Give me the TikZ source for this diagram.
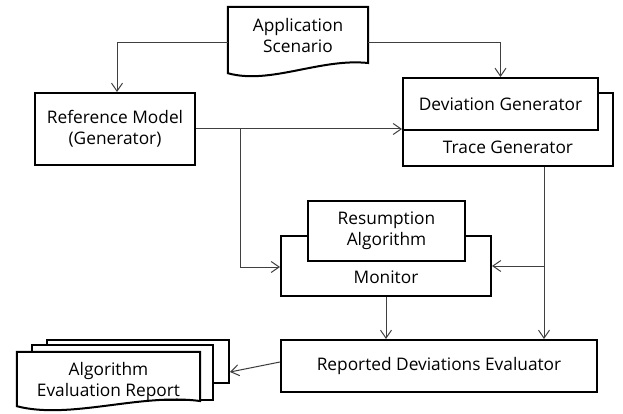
\documentclass[tikz,border=0pt]{standalone}
\usepackage{fontspec}
\setmainfont{Open Sans}
\usetikzlibrary{arrows.meta}
\begin{document}
\begin{tikzpicture}[x=1pt,y=-1pt,
  box/.style={draw=black, line width=2pt, fill=white, inner sep=0pt},
  lbl/.style={align=center, font=\fontsize{17.3}{21}\selectfont, inner sep=0pt},
  conn/.style={draw=black!75, line width=1pt, -{Straight Barb[length=8pt,width=11pt]}},
  plain/.style={draw=black!75, line width=1pt},
  docline/.style={draw=black, line width=2pt, fill=white}]
\useasboundingbox (0,0) rectangle (623,414);
\fill[white] (0,0) rectangle (623,414);

% Application Scenario (document shape)
\node[inner sep=0pt, minimum width=140pt, minimum height=66pt] (app) at (298,40) {};
\draw[docline] (app.north west) -- (app.north east) -- (368,63)
  .. controls (320,58) and (270,85) .. (app.south west) -- cycle;
\node[lbl] (applbl) at (298,35.5) {Application\\Scenario};

% Reference model
\node[box, lbl, minimum width=160pt, minimum height=72pt] (ref) at (115,129) {Reference Model\\(Generator)};

% Trace generator with deviation generator
\node[box, minimum width=210pt, minimum height=73pt] (trace) at (508,129.5) {};
\node[lbl] (tracelbl) at (508,147) {Trace Generator};
\node[box, lbl, minimum width=195pt, minimum height=52pt] (dev) at (500.5,104) {Deviation Generator};

% Monitor with resumption algorithm
\node[box, minimum width=210pt, minimum height=60pt] (mon) at (386,266) {};
\node[lbl] (monlbl) at (386,277) {Monitor};
\node[box, lbl, minimum width=157pt, minimum height=60pt] (res) at (386.5,231) {Resumption\\Algorithm};

% Evaluator
\node[box, lbl, minimum width=316pt, minimum height=52pt] (eval) at (439,366) {Reported Deviations Evaluator};

% Algorithm evaluation report (stacked documents)
\node[box, minimum width=182pt, minimum height=43pt] (rep3) at (138,361.5) {};
\node[box, minimum width=181pt, minimum height=55pt] (rep2) at (122.5,372.5) {};
\node[inner sep=0pt, minimum width=183pt, minimum height=54pt] (rep) at (108.5,379) {};
\draw[docline] (rep.north west) -- (rep.north east) -- (200,401)
  .. controls (140,393) and (70,420) .. (rep.south west) -- cycle;
\node[lbl] (replbl) at (108.5,381.5) {Algorithm\\Evaluation Report};

% Connectors
\draw[conn] ([yshift=-3pt]app.west) -| ([xshift=2pt]ref.north);
\draw[conn] ([yshift=-3pt]app.east) -| (dev.north);
\draw[conn] (ref.east) -- (ref.east -| trace.west);
\path (ref.east) ++(44pt,0) coordinate (j1);
\draw[conn] (j1) |- ([yshift=-1pt]mon.west);
\path (trace.south) ++(36pt,0) coordinate (t1);
\draw[conn] (t1) -- (t1 |- eval.north);
\draw[conn] (t1 |- mon.east) -- (mon.east);
\draw[conn] (mon.south) -- (mon.south |- eval.north);
\draw[conn] ([yshift=4pt]eval.west) -- ([yshift=-10.5pt]rep3.east);
\end{tikzpicture}
\end{document}
